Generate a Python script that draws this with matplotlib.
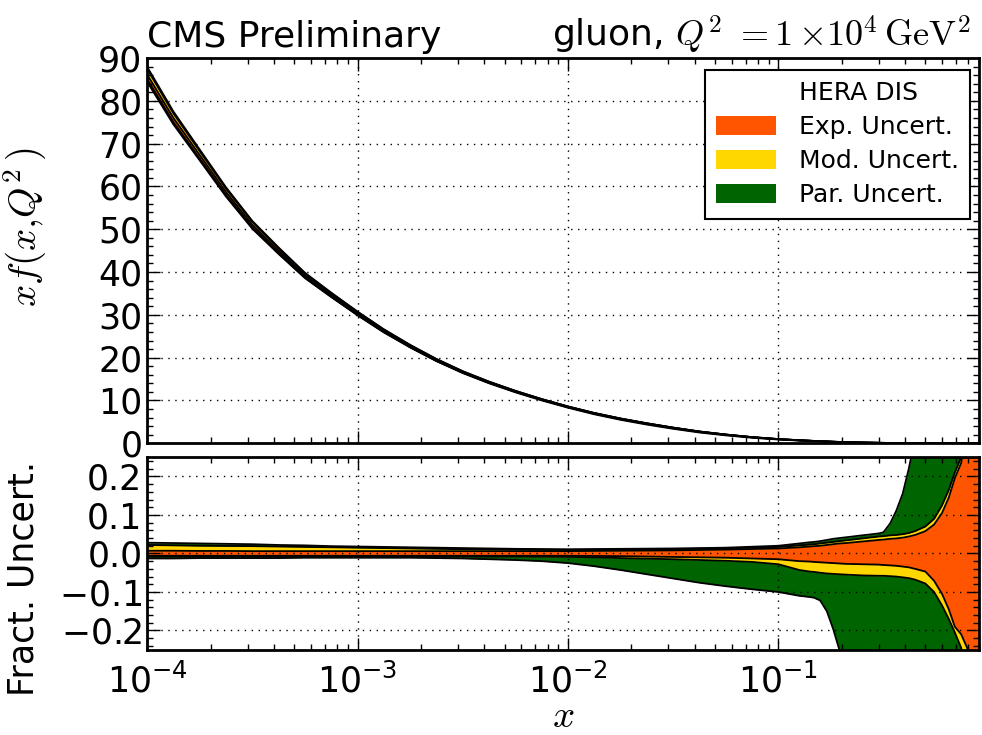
import matplotlib
matplotlib.use('Agg')
import matplotlib.pyplot as plt
import numpy as np
from matplotlib.patches import Patch
from matplotlib.ticker import AutoMinorLocator, MultipleLocator

plt.rcParams['mathtext.fontset'] = 'cm'
plt.rcParams['font.family'] = 'DejaVu Sans'

# x grid of the read-off points
x = [1e-4, 1.33e-4, 1.78e-4, 2.37e-4, 3.16e-4, 4.22e-4, 5.62e-4, 7.5e-4,
     1e-3, 1.33e-3, 1.78e-3, 2.37e-3, 3.16e-3, 4.22e-3, 5.62e-3, 7.5e-3,
     1e-2, 1.33e-2, 1.78e-2, 2.37e-2, 3.16e-2, 4.22e-2, 5.62e-2, 7.5e-2,
     0.1, 0.126, 0.141, 0.148, 0.158, 0.17, 0.182, 0.195,
     0.21, 0.25, 0.30, 0.316, 0.34, 0.363, 0.39, 0.417, 0.447, 0.5,
     0.55, 0.60, 0.646, 0.69, 0.74, 0.79, 0.85, 0.9]

# gluon xf(x,Q^2) central value
central = [85.5, 75.5, 66.8, 58.3, 50.7, 44.7, 39.0, 34.5,
           30.2, 26.2, 22.6, 19.4, 16.6, 14.2, 12.1, 10.2,
           8.5, 7.0, 5.7, 4.6, 3.6, 2.7, 2.0, 1.4,
           0.95, 0.68, 0.57, 0.52, 0.46, 0.40, 0.34, 0.29,
           0.25, 0.16, 0.09, 0.075, 0.058, 0.045, 0.033, 0.024, 0.017, 0.009,
           0.005, 0.0025, 0.0012, 0.0006, 0.0002, 0.0001, 0.0, 0.0]

# fractional uncertainty envelopes (cumulative: exp, exp+mod, exp+mod+par)
exp_up = [0.007, 0.007, 0.0065, 0.0065, 0.006, 0.006, 0.006, 0.006,
          0.006, 0.006, 0.006, 0.006, 0.006, 0.006, 0.006, 0.006,
          0.006, 0.0065, 0.007, 0.0075, 0.008, 0.009, 0.010, 0.0115,
          0.013, 0.016, 0.018, 0.019, 0.020, 0.022, 0.024, 0.026,
          0.027, 0.031, 0.035, 0.036, 0.038, 0.039, 0.041, 0.044, 0.048, 0.058,
          0.075, 0.105, 0.145, 0.195, 0.235, 0.33, 0.45, 0.5]
exp_dn = [-0.006, -0.006, -0.006, -0.006, -0.006, -0.006, -0.006, -0.006,
          -0.006, -0.006, -0.006, -0.006, -0.006, -0.006, -0.006, -0.006,
          -0.006, -0.0065, -0.007, -0.008, -0.009, -0.010, -0.011, -0.013,
          -0.015, -0.020, -0.021, -0.022, -0.023, -0.024, -0.025, -0.026,
          -0.027, -0.028, -0.029, -0.030, -0.031, -0.032, -0.034, -0.036, -0.040, -0.047,
          -0.071, -0.105, -0.145, -0.19, -0.21, -0.245, -0.35, -0.5]
mod_up = [0.022, 0.021, 0.020, 0.0195, 0.019, 0.018, 0.017, 0.016,
          0.015, 0.014, 0.013, 0.012, 0.011, 0.0105, 0.010, 0.0095,
          0.009, 0.0095, 0.010, 0.0105, 0.011, 0.012, 0.013, 0.015,
          0.017, 0.021, 0.023, 0.024, 0.026, 0.028, 0.030, 0.032,
          0.034, 0.039, 0.044, 0.045, 0.047, 0.048, 0.050, 0.053, 0.058, 0.070,
          0.09, 0.125, 0.165, 0.21, 0.25, 0.35, 0.45, 0.5]
mod_dn = [-0.008, -0.008, -0.008, -0.008, -0.008, -0.008, -0.008, -0.008,
          -0.008, -0.008, -0.008, -0.008, -0.008, -0.008, -0.008, -0.0085,
          -0.009, -0.010, -0.012, -0.0135, -0.015, -0.017, -0.019, -0.022,
          -0.028, -0.043, -0.047, -0.048, -0.050, -0.052, -0.053, -0.054,
          -0.055, -0.057, -0.058, -0.058, -0.059, -0.060, -0.062, -0.064, -0.068, -0.078,
          -0.10, -0.135, -0.17, -0.205, -0.245, -0.32, -0.45, -0.5]
par_up = [0.028, 0.027, 0.026, 0.025, 0.024, 0.022, 0.021, 0.019,
          0.018, 0.017, 0.016, 0.015, 0.014, 0.013, 0.012, 0.0115,
          0.011, 0.0115, 0.012, 0.0125, 0.013, 0.014, 0.015, 0.0175,
          0.020, 0.026, 0.029, 0.030, 0.032, 0.035, 0.038, 0.040,
          0.042, 0.047, 0.052, 0.055, 0.078, 0.11, 0.155, 0.22, 0.30, 0.45,
          0.6, 0.6, 0.6, 0.6, 0.6, 0.6, 0.6, 0.6]
par_dn = [-0.013, -0.013, -0.012, -0.012, -0.012, -0.012, -0.011, -0.011,
          -0.011, -0.011, -0.011, -0.012, -0.013, -0.015, -0.017, -0.020,
          -0.025, -0.033, -0.043, -0.054, -0.065, -0.076, -0.085, -0.093,
          -0.100, -0.110, -0.113, -0.115, -0.122, -0.150, -0.195, -0.25,
          -0.32, -0.5, -0.5, -0.5, -0.5, -0.5, -0.5, -0.5, -0.5, -0.5,
          -0.5, -0.5, -0.5, -0.5, -0.5, -0.5, -0.5, -0.5]

labels = ['HERA DIS', 'Exp. Uncert.', 'Mod. Uncert.', 'Par. Uncert.']
col_exp = '#ff5500'
col_mod = '#ffd700'
col_par = '#006400'

x = np.array(x)
central = np.array(central)
bands = [(np.array(par_dn), np.array(par_up), col_par),
         (np.array(mod_dn), np.array(mod_up), col_mod),
         (np.array(exp_dn), np.array(exp_up), col_exp)]

fig = plt.figure(figsize=(9.82, 7.35), dpi=100)
ax1 = fig.add_axes([0.150, 0.397, 0.847, 0.524])
ax2 = fig.add_axes([0.150, 0.116, 0.847, 0.262])

for lo, hi, c in bands:
    ax1.fill_between(x, central * (1 + lo), central * (1 + hi), color=c, lw=0, zorder=1)
    ax1.plot(x, central * (1 + lo), 'k-', lw=1.3, zorder=2)
    ax1.plot(x, central * (1 + hi), 'k-', lw=1.3, zorder=2)
    ax2.fill_between(x, lo, hi, color=c, lw=0, zorder=1)
    ax2.plot(x, lo, 'k-', lw=1.3, zorder=2)
    ax2.plot(x, hi, 'k-', lw=1.3, zorder=2)

for ax in (ax1, ax2):
    ax.set_xscale('log')
    ax.set_xlim(1e-4, 0.9)
    ax.grid(True, which='major', color='k', linestyle=(0, (1, 4)), lw=1.0)
    ax.tick_params(which='both', direction='in', top=True, right=True, labelsize=25)
    ax.tick_params(which='major', length=9, width=1)
    ax.tick_params(which='minor', length=4.5, width=1)
    ax.yaxis.set_minor_locator(AutoMinorLocator(5))
    for s in ax.spines.values():
        s.set_linewidth(2)

ax1.set_ylim(0, 90)
ax1.yaxis.set_major_locator(MultipleLocator(10))
ax1.tick_params(axis='x', labelbottom=False)
ax1.set_ylabel(r'$xf(x{,}Q^2\,)$', fontsize=28)
ax1.yaxis.set_label_coords(-0.118, 0.56)

ax2.set_ylim(-0.25, 0.25)
ax2.set_yticks([-0.2, -0.1, 0.0, 0.1, 0.2])
ax2.set_yticklabels([r'$\mathdefault{-0.2}$', r'$\mathdefault{-0.1}$', '0.0', '0.1', '0.2'])
ax2.set_ylabel('Fract. Uncert.', fontsize=25)
ax2.yaxis.set_label_coords(-0.128, 0.37)
ax2.set_xlabel(r'$x$', fontsize=28, va='center')
ax2.xaxis.set_label_coords(0.5, -0.345)
ax2.tick_params(axis='x', pad=10)

ax1.text(0.0, 1.028, 'CMS Preliminary', transform=ax1.transAxes, fontsize=26,
         ha='left', va='baseline')
ax1.text(0.99, 1.028, r'gluon, $Q^2\ {=}1\,{\times}10^4\,\mathrm{GeV}^2$',
         transform=ax1.transAxes, fontsize=26, ha='right', va='baseline')

handles = [Patch(facecolor='none', edgecolor='none'),
           Patch(facecolor=col_exp, edgecolor='none'),
           Patch(facecolor=col_mod, edgecolor='none'),
           Patch(facecolor=col_par, edgecolor='none')]
leg = ax1.legend(handles, labels, loc='upper right', bbox_to_anchor=(0.989, 0.969),
                 borderaxespad=0, fontsize=18, fancybox=False, framealpha=1,
                 edgecolor='k', handlelength=2.4, handleheight=0.75,
                 handletextpad=0.9, labelspacing=0.4, borderpad=0.45)
leg.get_frame().set_linewidth(1.5)

fig.savefig('out.png', dpi=100)
